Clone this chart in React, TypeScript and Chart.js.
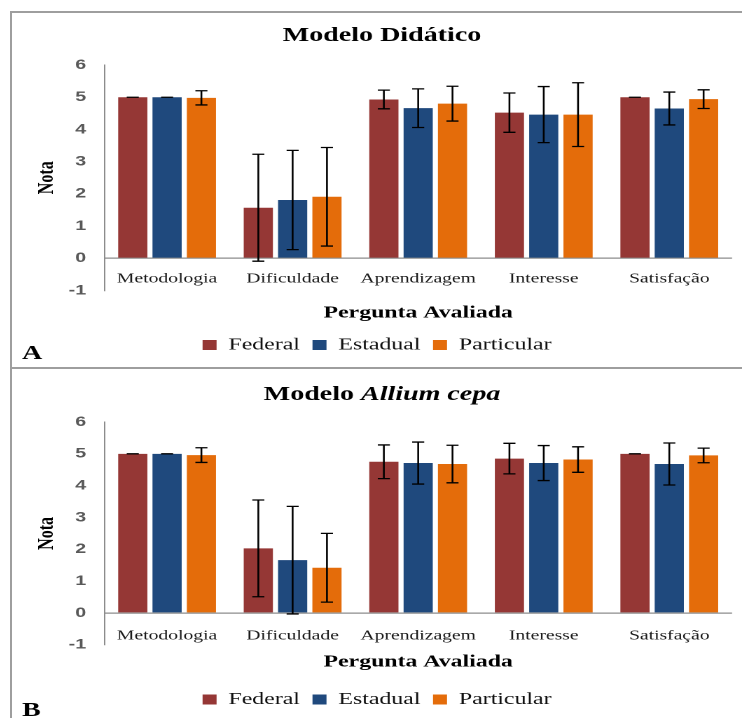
import React, { useEffect, useRef } from 'react';
import { Chart, registerables } from 'chart.js';

Chart.register(...registerables);

// ---------------- data ----------------
const categories = ['Metodologia', 'Dificuldade', 'Aprendizagem', 'Interesse', 'Satisfação'];
const seriesNames = ['Federal', 'Estadual', 'Particular'];
const seriesColors = ['#953735', '#1F497D', '#E46C0A'];

const yMin = -1;
const yMax = 6;
const yStep = 1;

const yAxisTitle = 'Nota';
const xAxisTitle = 'Pergunta Avaliada';

// Painel A – Modelo Didático (médias e desvios)
const didaticoFederal = [5.0, 1.57, 4.93, 4.52, 5.0];
const didaticoFederalErr = [0, 1.66, 0.29, 0.61, 0];
const didaticoEstadual = [5.0, 1.81, 4.66, 4.46, 4.65];
const didaticoEstadualErr = [0, 1.54, 0.6, 0.87, 0.51];
const didaticoParticular = [4.98, 1.91, 4.8, 4.46, 4.94];
const didaticoParticularErr = [0.22, 1.53, 0.54, 0.99, 0.29];

// Painel B – Modelo Allium cepa
const alliumFederal = [5.0, 2.03, 4.75, 4.85, 5.0];
const alliumFederalErr = [0, 1.52, 0.53, 0.48, 0];
const alliumEstadual = [5.0, 1.66, 4.71, 4.71, 4.68];
const alliumEstadualErr = [0, 1.69, 0.66, 0.55, 0.66];
const alliumParticular = [4.96, 1.42, 4.68, 4.82, 4.95];
const alliumParticularErr = [0.23, 1.08, 0.59, 0.4, 0.23];

// ---------------- layout (not data) ----------------
const INTERNAL_W = 514; // drawn width, displayed stretched to 720px like the original figure
const DISPLAY_W = 720;
const CANVAS_LEFT = 22;
const SERIF = '"Liberation Serif", "Times New Roman", serif';
const SANS = '"Liberation Sans", Arial, sans-serif';

type Seg = { text: string; italic?: boolean };

interface PanelCfg {
  means: number[][];
  errs: number[][];
  title: Seg[];
  letter: string;
  top: number;
  height: number;
  titleBaseline: number;
  letterBaseline: number;
  padTop: number;
  padBottom: number;
  xAxisHeight: number;
  xTickPad: number;
  xTitlePadBottom: number;
}

const errorBarPlugin = {
  id: 'errorBarsCustom',
  afterDatasetsDraw(chart: any) {
    const { ctx } = chart;
    const yScale = chart.scales.y;
    ctx.save();
    ctx.strokeStyle = '#000000';
    ctx.lineWidth = 1.3;
    chart.data.datasets.forEach((ds: any, i: number) => {
      const meta = chart.getDatasetMeta(i);
      const errs: number[] = ds.errorValues || [];
      meta.data.forEach((bar: any, j: number) => {
        const v = ds.data[j] as number;
        const e = errs[j] || 0;
        const yt = yScale.getPixelForValue(v + e);
        const yb = yScale.getPixelForValue(v - e);
        const x = bar.x;
        const c = 4.3;
        ctx.beginPath();
        ctx.moveTo(x, yt);
        ctx.lineTo(x, yb);
        ctx.moveTo(x - c, yt);
        ctx.lineTo(x + c, yt);
        ctx.moveTo(x - c, yb);
        ctx.lineTo(x + c, yb);
        ctx.stroke();
      });
    });
    ctx.restore();
  },
};

function makeTextPlugin(cfg: PanelCfg) {
  return {
    id: 'panelText',
    afterDraw(chart: any) {
      const { ctx } = chart;
      ctx.save();
      ctx.fillStyle = '#000000';
      ctx.textBaseline = 'alphabetic';
      ctx.textAlign = 'left';
      const fontFor = (s: Seg) => `${s.italic ? 'italic ' : ''}bold 20px ${SERIF}`;
      let total = 0;
      const widths = cfg.title.map((s) => {
        ctx.font = fontFor(s);
        const w = ctx.measureText(s.text).width;
        total += w;
        return w;
      });
      let x = chart.width / 2 - total / 2;
      cfg.title.forEach((s, k) => {
        ctx.font = fontFor(s);
        ctx.fillText(s.text, x, cfg.titleBaseline);
        x += widths[k];
      });
      ctx.font = `bold 20px ${SERIF}`;
      ctx.fillText(cfg.letter, 0, cfg.letterBaseline);
      ctx.restore();
    },
  };
}

function Panel({ cfg }: { cfg: PanelCfg }) {
  const ref = useRef<HTMLCanvasElement>(null);
  useEffect(() => {
    if (!ref.current) return;
    const chart = new Chart(ref.current, {
      type: 'bar',
      data: {
        labels: categories,
        datasets: seriesNames.map((name, i) => ({
          label: name,
          data: cfg.means[i],
          errorValues: cfg.errs[i],
          backgroundColor: seriesColors[i],
          borderWidth: 0,
          categoryPercentage: 0.82,
          barPercentage: 0.85,
        })) as any,
      },
      options: {
        responsive: false,
        animation: false,
        devicePixelRatio: 2,
        events: [],
        layout: { padding: { top: cfg.padTop, bottom: cfg.padBottom, left: 0, right: 7.1 } },
        plugins: {
          title: { display: false },
          tooltip: { enabled: false },
          legend: {
            display: true,
            position: 'bottom',
            labels: {
              boxWidth: 10,
              boxHeight: 10,
              padding: 9,
              color: '#111111',
              font: { family: SERIF, size: 17 },
            },
          },
        },
        scales: {
          x: {
            grid: { display: false, drawTicks: false },
            border: { display: false },
            ticks: {
              mirror: true,
              padding: cfg.xTickPad,
              autoSkip: false,
              maxRotation: 0,
              minRotation: 0,
              color: '#1a1a1a',
              font: { family: SERIF, size: 14 },
            },
            title: {
              display: true,
              text: xAxisTitle,
              color: '#000000',
              font: { family: SERIF, size: 17, weight: 'bold' },
              padding: { top: 0, bottom: cfg.xTitlePadBottom },
            },
            afterFit: (s: any) => {
              s.height = cfg.xAxisHeight;
            },
          },
          y: {
            min: yMin,
            max: yMax,
            ticks: {
              stepSize: yStep,
              padding: 13,
              color: '#595959',
              font: { family: SANS, size: 14, weight: 'bold' },
            },
            grid: {
              drawTicks: false,
              lineWidth: 1.2,
              color: (c: any) => (c.tick && c.tick.value === 0 ? '#8c8c8c' : 'rgba(0,0,0,0)'),
            },
            border: { display: true, color: '#8c8c8c', width: 1 },
            title: {
              display: true,
              text: yAxisTitle,
              color: '#000000',
              font: { family: SERIF, size: 16, weight: 'bold' },
              padding: { top: 8.25, bottom: 0 },
            },
            afterFit: (s: any) => {
              s.width = 58.75;
            },
          },
        },
      } as any,
      plugins: [errorBarPlugin, makeTextPlugin(cfg)],
    });
    return () => chart.destroy();
  }, [cfg]);
  return (
    <canvas
      ref={ref}
      width={INTERNAL_W}
      height={cfg.height}
      style={{ position: 'absolute', left: CANVAS_LEFT, top: cfg.top, width: DISPLAY_W, height: cfg.height }}
    />
  );
}

const panelA: PanelCfg = {
  means: [didaticoFederal, didaticoEstadual, didaticoParticular],
  errs: [didaticoFederalErr, didaticoEstadualErr, didaticoParticularErr],
  title: [{ text: 'Modelo Didático' }],
  letter: 'A',
  top: 0,
  height: 367,
  titleBaseline: 41,
  letterBaseline: 359,
  padTop: 65,
  padBottom: 3.5,
  xAxisHeight: 37,
  xTickPad: 3.1,
  xTitlePadBottom: 4.3,
};

const panelB: PanelCfg = {
  means: [alliumFederal, alliumEstadual, alliumParticular],
  errs: [alliumFederalErr, alliumEstadualErr, alliumParticularErr],
  title: [{ text: 'Modelo ' }, { text: 'Allium cepa', italic: true }],
  letter: 'B',
  top: 369,
  height: 349,
  titleBaseline: 31,
  letterBaseline: 347,
  padTop: 53,
  padBottom: 0,
  xAxisHeight: 37.2,
  xTickPad: 0.4,
  xTitlePadBottom: 9.8,
};

export default function App() {
  const border = '2px solid #9e9e9e';
  return (
    <div
      style={{
        position: 'absolute',
        left: 0,
        top: 0,
        width: 742,
        height: 718,
        overflow: 'hidden',
        background: '#ffffff',
      }}
    >
      <div
        style={{
          position: 'absolute',
          left: 10,
          top: 11,
          width: 800,
          height: 358,
          boxSizing: 'border-box',
          borderTop: border,
          borderLeft: border,
          borderBottom: border,
        }}
      />
      <div
        style={{
          position: 'absolute',
          left: 10,
          top: 369,
          width: 800,
          height: 400,
          boxSizing: 'border-box',
          borderLeft: border,
        }}
      />
      <Panel cfg={panelA} />
      <Panel cfg={panelB} />
    </div>
  );
}
